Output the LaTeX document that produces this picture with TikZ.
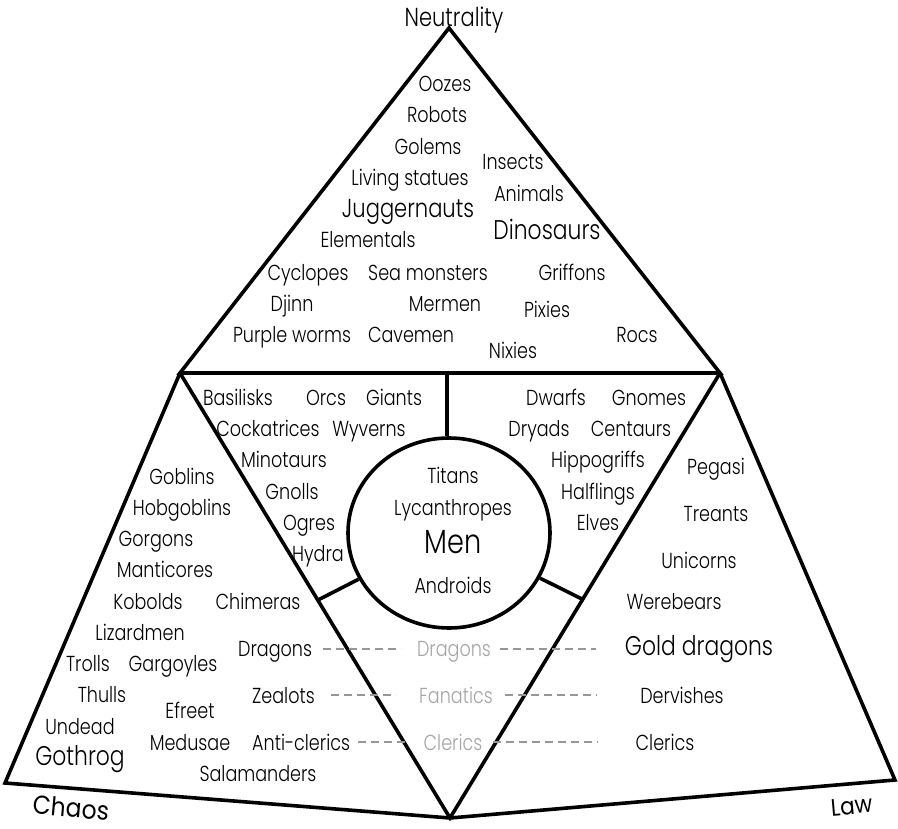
\documentclass[tikz,border=0pt]{standalone}
\usepackage{fontspec}
\IfFontExistsTF{Poppins Light}{\setmainfont{Poppins Light}[FakeStretch=0.81]}{\setmainfont{Poppins}[FakeStretch=0.81]}
\newfontfamily\axisfont{Poppins}[FakeStretch=0.9]
\usetikzlibrary{shapes.geometric}
\definecolor{lightlbl}{RGB}{165,165,165}
\definecolor{dashcol}{RGB}{150,150,150}
\tikzset{
  lbl/.style={font=\fontsize{21.7}{23}\selectfont, inner sep=0pt, anchor=mid, yshift=-5.5pt},
  biglbl/.style={lbl, font=\fontsize{27}{29}\selectfont},
  hugelbl/.style={lbl, font=\fontsize{33.5}{35}\selectfont},
  greylbl/.style={lbl, text=lightlbl},
  outline/.style={line width=3.6pt, line join=miter},
  dashline/.style={draw=dashcol, line width=1.5pt, dash pattern=on 8pt off 5pt},
  axislbl/.style={font=\axisfont\fontsize{26}{28}\selectfont, inner sep=0pt, anchor=mid, yshift=-5.5pt}
}
\begin{document}
\begin{tikzpicture}[x=1pt,y=-1pt]
\useasboundingbox (0,0) rectangle (898,829);
% frame points
\coordinate (N) at (449,28);
\coordinate (TL) at (180,373);
\coordinate (TR) at (720,373);
\coordinate (BA) at (450,818);
\coordinate (LC) at (5,783);
\coordinate (RC) at (895,780);
\coordinate (VT) at (447,373);
\coordinate (SL) at (318,600);
\coordinate (SR) at (584,600);
% outline
\draw[outline] (N) -- (TL) -- (TR) -- cycle;
\draw[outline] (TL) -- (LC) -- (BA) -- (RC) -- (TR);
\draw[outline] (TL) -- (BA) -- (TR);
\node[draw, line width=3.6pt, ellipse, minimum width=202pt, minimum height=190pt, inner sep=0pt] (men) at (449,533) {};
\draw[outline] (VT) -- (VT |- men.north);
\draw[outline] (men) -- (SL);
\draw[outline] (men) -- (SR);
% axis labels
\node[lbl, font=\fontsize{26}{28}\selectfont] (neut) at (454,18) {Neutrality};
\node[axislbl, rotate=-5] (chaos) at (71,809) {Chaos};
\node[axislbl, rotate=5, font=\axisfont\fontsize{24}{26}\selectfont] (law) at (852,806) {Law};
% top triangle
\node[lbl] (oozes) at (445,83) {Oozes};
\node[lbl] (robots) at (437,114) {Robots};
\node[lbl] (golems) at (428,146) {Golems};
\node[lbl] (insects) at (513,161) {Insects};
\node[lbl] (living) at (410,177) {Living statues};
\node[lbl] (animals) at (529,193) {Animals};
\node[biglbl, font=\fontsize{26}{28}\selectfont] (jugg) at (408,209) {Juggernauts};
\node[biglbl] (dino) at (547,231) {Dinosaurs};
\node[lbl] (elem) at (368,239) {Elementals};
\node[lbl] (cyclo) at (308,272) {Cyclopes};
\node[lbl] (seam) at (428,272) {Sea monsters};
\node[lbl] (griff) at (572,272) {Griffons};
\node[lbl] (djinn) at (292,303) {Djinn};
\node[lbl] (mermen) at (445,303) {Mermen};
\node[lbl] (pixies) at (547,309) {Pixies};
\node[lbl] (purple) at (292,334) {Purple worms};
\node[lbl] (cave) at (411,334) {Cavemen};
\node[lbl] (rocs) at (637,334) {Rocs};
\node[lbl] (nixies) at (513,350) {Nixies};
% upper left wedge
\node[lbl] (basil) at (238,397) {Basilisks};
\node[lbl] (orcs) at (326,397) {Orcs};
\node[lbl] (giants) at (394,397) {Giants};
\node[lbl] (cocka) at (268,428) {Cockatrices};
\node[lbl] (wyv) at (369,428) {Wyverns};
\node[lbl] (mino) at (284,459) {Minotaurs};
\node[lbl] (gnolls) at (292,491) {Gnolls};
\node[lbl] (ogres) at (309,522) {Ogres};
\node[lbl] (hydra) at (318,553) {Hydra};
% upper right wedge
\node[lbl] (dwarfs) at (556,397) {Dwarfs};
\node[lbl] (gnomes) at (649,397) {Gnomes};
\node[lbl] (dryads) at (539,428) {Dryads};
\node[lbl] (cent) at (631,428) {Centaurs};
\node[lbl] (hippo) at (598,459) {Hippogriffs};
\node[lbl] (half) at (598,491) {Halflings};
\node[lbl] (elves) at (598,522) {Elves};
% circle
\node[lbl] (titans) at (453,475) {Titans};
\node[lbl] (lyc) at (453,507) {Lycanthropes};
\node[hugelbl] (mentxt) at (453,545) {Men};
\node[lbl] (andr) at (453,585) {Androids};
% left outer
\node[lbl] (gob) at (182,476) {Goblins};
\node[lbl] (hob) at (182,507) {Hobgoblins};
\node[lbl] (gorg) at (156,538) {Gorgons};
\node[lbl] (mant) at (165,569) {Manticores};
\node[lbl] (kob) at (148,601) {Kobolds};
\node[lbl] (chim) at (258,601) {Chimeras};
\node[lbl] (lizard) at (140,632) {Lizardmen};
\node[lbl] (trolls) at (88,663) {Trolls};
\node[lbl] (garg) at (173,663) {Gargoyles};
\node[lbl] (thulls) at (102,694) {Thulls};
\node[lbl] (efreet) at (190,710) {Efreet};
\node[lbl] (undead) at (80,726) {Undead};
\node[biglbl] (goth) at (80,757) {Gothrog};
\node[lbl] (medusae) at (190,742) {Medusae};
\node[lbl] (salam) at (258,773) {Salamanders};
% rows
\node[lbl, anchor=mid west] (dragL) at (238,648) {Dragons};
\node[greylbl] (dragM) at (454,648) {Dragons};
\node[biglbl] (dragR) at (699,647) {Gold dragons};
\node[lbl, anchor=mid west] (zeal) at (252,695) {Zealots};
\node[greylbl] (fanat) at (456,695) {Fanatics};
\node[lbl] (derv) at (682,695) {Dervishes};
\node[lbl, anchor=mid west] (anti) at (252,742) {Anti-clerics};
\node[greylbl] (clerM) at (453,742) {Clerics};
\node[lbl] (clerR) at (665,742) {Clerics};
% right outer
\node[lbl] (peg) at (716,466) {Pegasi};
\node[lbl] (tre) at (716,513) {Treants};
\node[lbl] (uni) at (699,560) {Unicorns};
\node[lbl] (were) at (674,601) {Werebears};
% dashed links
\coordinate (d1a) at (323,649); \coordinate (d1b) at (401,649);
\coordinate (d1c) at (500,649); \coordinate (d1d) at (596,649);
\coordinate (d2a) at (331,695); \coordinate (d2b) at (396,695);
\coordinate (d2c) at (505,695); \coordinate (d2d) at (597,695);
\coordinate (d3a) at (358,742); \coordinate (d3b) at (405,742);
\coordinate (d3c) at (493,742); \coordinate (d3d) at (598,742);
\draw[dashline] (d1a) -- (d1b);
\draw[dashline] (d1c) -- (d1d);
\draw[dashline] (d2a) -- (d2b);
\draw[dashline] (d2c) -- (d2d);
\draw[dashline] (d3a) -- (d3b);
\draw[dashline] (d3c) -- (d3d);
\end{tikzpicture}
\end{document}
